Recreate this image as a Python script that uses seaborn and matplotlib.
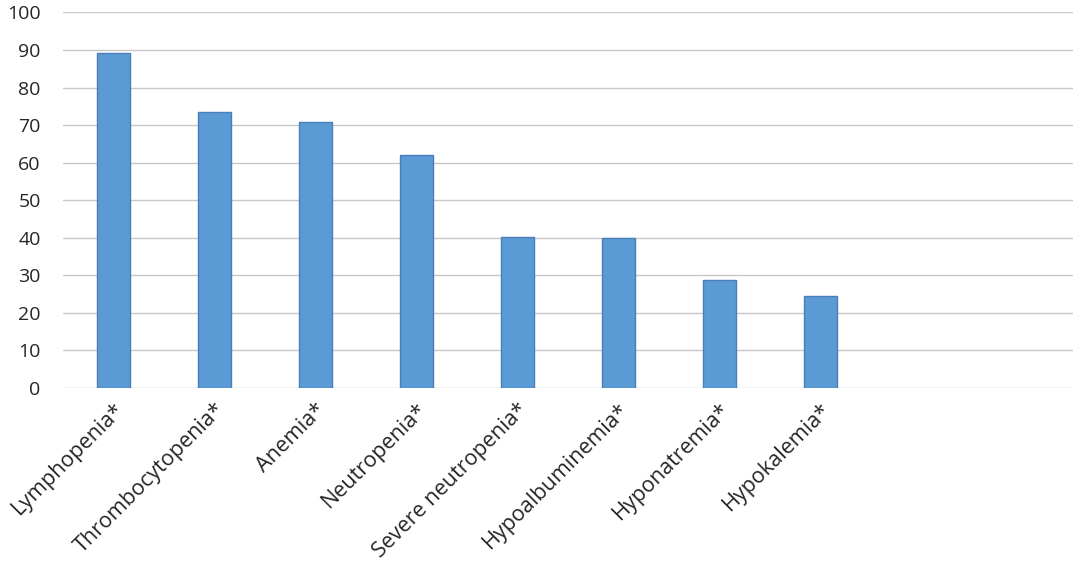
import matplotlib
matplotlib.use("Agg")
import matplotlib.pyplot as plt
import seaborn as sns

categories = ["Lymphopenia*", "Thrombocytopenia*", "Anemia*", "Neutropenia*",
              "Severe neutropenia*", "Hypoalbuminemia*", "Hyponatremia*", "Hypokalemia*"]
values = [89.1, 73.4, 70.8, 62.0, 40.1, 40.0, 28.7, 24.4]
y_ticks = list(range(0, 101, 10))

sns.set_style("white")
plt.rcParams['font.family'] = ['Open Sans', 'DejaVu Sans']

fig = plt.figure(figsize=(10.84, 5.68), dpi=100)
ax = fig.add_axes([0.058, 0.317, 0.932, 0.661])

sns.barplot(x=categories, y=values, color="#5B9BD5", saturation=1, width=0.32,
            edgecolor="#4A7EBB", linewidth=1, ax=ax, zorder=3)

# excel style: 10 slots on the axis, only 8 used
ax.set_xlim(-0.5, 9.5)
ax.set_ylim(0, 100)
ax.set_yticks(y_ticks)
ax.yaxis.grid(True, color="#C8C8C8", linewidth=1)
ax.set_axisbelow(True)
sns.despine(ax=ax, left=True, bottom=True, top=True, right=True)

ax.tick_params(axis="y", length=0, pad=16, labelsize=14, labelcolor="#262626")
ax.tick_params(axis="x", length=0, pad=8, labelsize=15.5, labelcolor="#262626")
plt.setp(ax.get_xticklabels(), rotation=45, ha="right", rotation_mode="anchor")
ax.set_xlabel("")
ax.set_ylabel("")

fig.savefig("out.png", dpi=100)
